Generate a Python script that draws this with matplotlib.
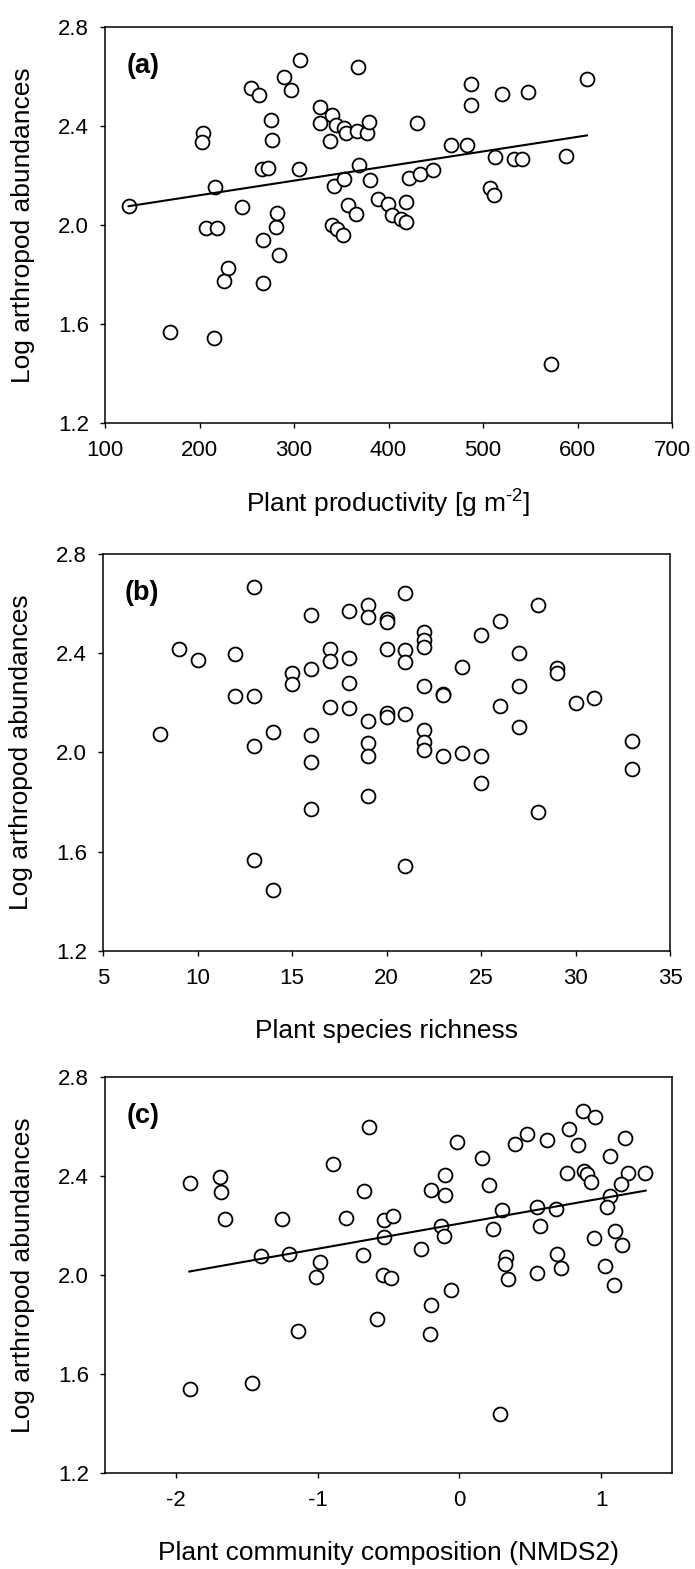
import matplotlib
matplotlib.use('Agg')
import matplotlib.pyplot as plt

plt.rcParams['font.family'] = ['Liberation Sans', 'DejaVu Sans']
plt.rcParams['mathtext.fontset'] = 'custom'
plt.rcParams['mathtext.rm'] = 'Liberation Sans'
plt.rcParams['axes.unicode_minus'] = False

# (a) plant productivity
prod = [125, 169, 215, 204, 203, 216, 207, 219, 230, 226,
        245, 254, 263, 267, 267, 266, 273, 276, 277, 281,
        282, 284, 289, 297, 306, 305, 328, 328, 340, 338,
        344, 353, 355, 368, 367, 377, 379, 369, 342, 353,
        380, 357, 366, 340, 346, 352, 389, 399, 404, 413,
        418, 419, 422, 433, 447, 430, 466, 483, 487, 487,
        520, 548, 610, 513, 507, 512, 533, 541, 588, 572]
abund_a = [2.076, 1.566, 1.543, 2.373, 2.337, 2.154, 1.989, 1.987, 1.825, 1.773,
           2.071, 2.555, 2.525, 1.767, 1.940, 2.228, 2.232, 2.423, 2.345, 1.991,
           2.049, 1.879, 2.598, 2.545, 2.665, 2.228, 2.477, 2.413, 2.444, 2.339,
           2.403, 2.393, 2.370, 2.640, 2.380, 2.373, 2.416, 2.241, 2.158, 2.187,
           2.181, 2.082, 2.046, 1.999, 1.983, 1.960, 2.104, 2.084, 2.040, 2.026,
           2.014, 2.091, 2.191, 2.205, 2.222, 2.411, 2.322, 2.322, 2.568, 2.483,
           2.529, 2.537, 2.588, 2.276, 2.148, 2.121, 2.265, 2.265, 2.279, 1.440]
fit_a_x = [125, 610]
fit_a_y = [2.076, 2.362]

# (b) plant species richness
rich = [8, 9, 10, 12, 12, 13, 13, 13, 13, 14, 14, 15, 15,
        16, 16, 16, 16, 16, 17, 17, 17, 18, 18, 18, 18,
        19, 19, 19, 19, 19, 19, 20, 20, 20, 20, 20,
        21, 21, 21, 21, 21, 22, 22, 22, 22, 22, 22, 22,
        23, 23, 23, 24, 24, 25, 25, 25, 26, 26, 27, 27, 27,
        28, 28, 29, 29, 30, 31, 33, 33]
abund_b = [2.074, 2.416, 2.372, 2.396, 2.226, 2.668, 2.226, 2.027, 1.568, 2.083, 1.447, 2.319, 2.275,
           2.554, 2.336, 2.070, 1.961, 1.772, 2.416, 2.370, 2.185, 2.572, 2.380, 2.279, 2.179,
           2.595, 2.548, 2.125, 2.040, 1.987, 1.826, 2.538, 2.525, 2.417, 2.161, 2.145,
           2.642, 2.413, 2.366, 2.154, 1.544, 2.487, 2.454, 2.424, 2.266, 2.091, 2.044, 2.011,
           2.236, 2.230, 1.987, 2.344, 1.997, 2.474, 1.984, 1.877, 2.530, 2.189, 2.403, 2.266, 2.101,
           2.595, 1.762, 2.340, 2.322, 2.199, 2.219, 2.047, 1.934]

# (c) plant community composition (NMDS2)
nmds = [-1.90, -1.90, -1.69, -1.68, -1.65, -1.46, -1.40, -1.25, -1.20, -1.14,
        -1.01, -0.98, -0.89, -0.80, -0.68, -0.67, -0.64, -0.58,
        -0.53, -0.47, -0.53, -0.54, -0.48,
        -0.27, -0.20, -0.21, -0.06, -0.02, -0.20, -0.10, -0.10, -0.13, -0.11,
        0.16, 0.21, 0.30, 0.24, 0.29, 0.33, 0.32, 0.34,
        0.39, 0.48, 0.62, 0.55, 0.57, 0.55, 0.68, 0.69, 0.72,
        0.77, 0.84, 0.87, 0.96, 0.76, 0.88, 0.90, 0.93,
        1.06, 1.17, 1.19, 1.31, 1.14, 1.06, 1.04, 0.95, 1.10, 1.15, 1.03, 1.09]
abund_c = [2.373, 1.541, 2.397, 2.337, 2.227, 1.564, 2.075, 2.227, 2.085, 1.772,
           1.991, 2.051, 2.447, 2.232, 2.081, 2.341, 2.599, 1.823,
           2.223, 2.240, 2.153, 2.001, 1.987,
           2.104, 1.880, 1.763, 1.938, 2.538, 2.344, 2.404, 2.323, 2.196, 2.158,
           2.472, 2.365, 2.264, 2.186, 1.440, 2.071, 2.044, 1.985,
           2.529, 2.568, 2.545, 2.274, 2.200, 2.010, 2.265, 2.085, 2.028,
           2.590, 2.525, 2.663, 2.637, 2.411, 2.422, 2.408, 2.377,
           2.481, 2.552, 2.413, 2.411, 2.368, 2.321, 2.276, 2.149, 2.176, 2.122, 2.038, 1.958]
fit_c_x = [-1.905, 1.314]
fit_c_y = [2.014, 2.341]

yticks = [1.2, 1.6, 2.0, 2.4, 2.8]

fig = plt.figure(figsize=(6.95, 15.69), dpi=100)
W, H = 695, 1569


def make_axes(left, top, right, bottom):
    return fig.add_axes([left / W, 1 - bottom / H, (right - left) / W, (bottom - top) / H])


panels = [
    (make_axes(105, 27, 672, 423), prod, abund_a, (100, 700), [100, 200, 300, 400, 500, 600, 700],
     r'Plant productivity [g m$^{\text{-2}}$]', '(a)', (fit_a_x, fit_a_y)),
    (make_axes(103, 554, 670, 951), rich, abund_b, (5, 35), [5, 10, 15, 20, 25, 30, 35],
     'Plant species richness', '(b)', None),
    (make_axes(105, 1077, 672, 1473), nmds, abund_c, (-2.5, 1.5), [-2, -1, 0, 1],
     'Plant community composition (NMDS2)', '(c)', (fit_c_x, fit_c_y)),
]

for ax, x, y, xlim, xticks, xlabel, letter, fit in panels:
    ax.plot(x, y, 'o', ms=10, mfc='white', mec='black', mew=1.3, ls='none', zorder=2)
    if fit is not None:
        ax.plot(fit[0], fit[1], color='black', lw=1.5, zorder=3)
    ax.set_xlim(*xlim)
    ax.set_ylim(1.2, 2.8)
    ax.set_xticks(xticks)
    ax.set_yticks(yticks)
    ax.set_yticklabels(['%.1f' % v for v in yticks])
    ax.tick_params(direction='out', length=3.6, width=1, labelsize=16)
    ax.tick_params(axis='x', pad=9)
    ax.tick_params(axis='y', pad=8)
    for s in ax.spines.values():
        s.set_linewidth(1.1)
    ax.set_xlabel(xlabel, fontsize=19)
    ax.set_ylabel('Log arthropod abundances', fontsize=19)
    ax.xaxis.label.set_va('center')
    ax.yaxis.label.set_va('center')
    ax.xaxis.set_label_coords(0.5, -80 / 396)
    ax.yaxis.set_label_coords(-82 / 567, 0.5)
    ax.text(0.038, 0.935, letter, transform=ax.transAxes, fontsize=19.5,
            fontweight='bold', ha='left', va='top')

fig.savefig('out.png', dpi=100)
